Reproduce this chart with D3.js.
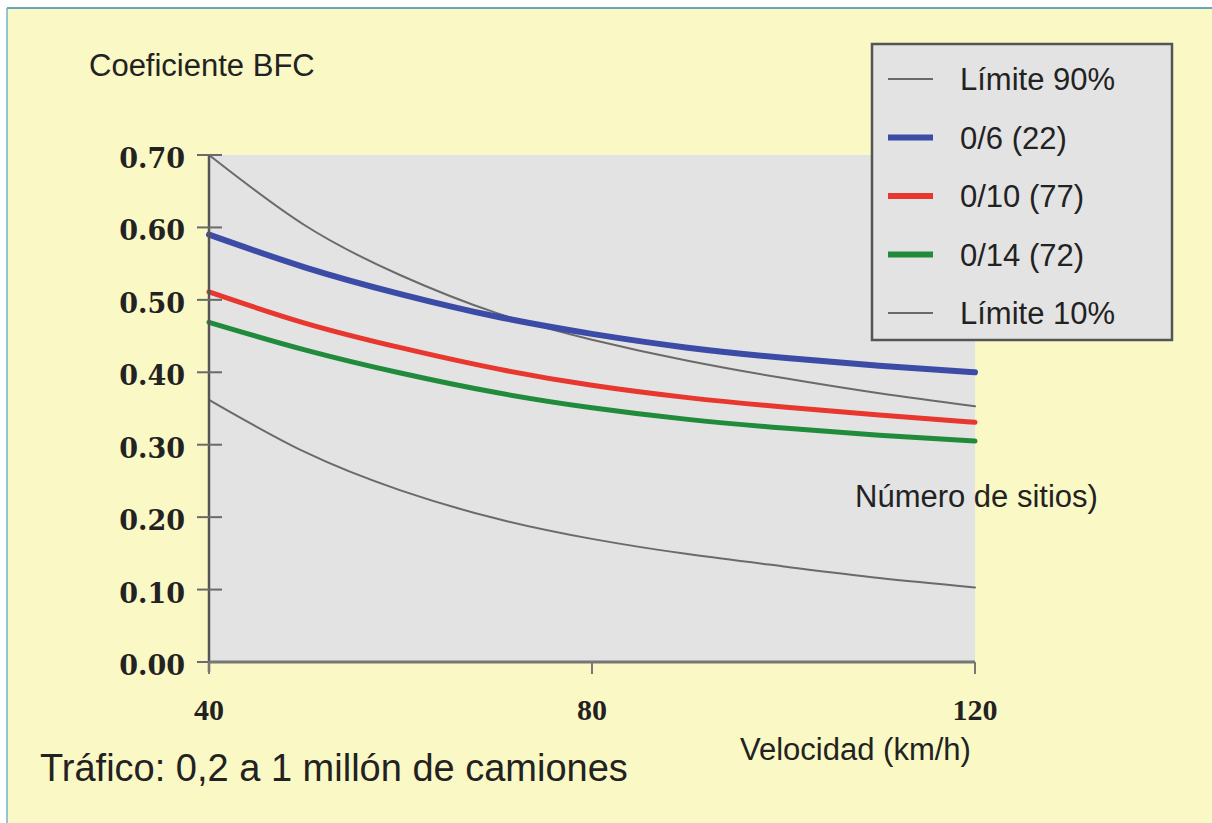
<!DOCTYPE html>
<html>
<head>
<meta charset="utf-8">
<script src="https://cdn.jsdelivr.net/npm/d3@7"></script>
<style>
  html, body { margin: 0; padding: 0; background: #ffffff; }
  svg { display: block; }
</style>
</head>
<body>
<svg id="chart" width="1212" height="823"></svg>
<script>
// ---- data ----
const speeds = [40, 50, 60, 70, 80, 90, 100, 110, 120];
const limite90 = [0.700, 0.603, 0.534, 0.482, 0.445, 0.416, 0.392, 0.371, 0.353];
const serie06  = [0.590, 0.545, 0.508, 0.477, 0.453, 0.434, 0.420, 0.409, 0.400];
const serie010 = [0.511, 0.468, 0.434, 0.405, 0.382, 0.365, 0.352, 0.341, 0.331];
const serie014 = [0.469, 0.431, 0.399, 0.372, 0.351, 0.335, 0.323, 0.313, 0.305];
const limite10 = [0.362, 0.290, 0.237, 0.198, 0.170, 0.149, 0.132, 0.116, 0.103];
const yTicks = [0, 0.1, 0.2, 0.3, 0.4, 0.5, 0.6, 0.7];
const xTicks = [40, 80, 120];
const legendLabels = ["Límite 90%", "0/6 (22)", "0/10 (77)", "0/14 (72)", "Límite 10%"];

const series = [
  { name: legendLabels[0], values: limite90, color: "#6a6a6a", width: 2 },
  { name: legendLabels[1], values: serie06,  color: "#3c4ba6", width: 6 },
  { name: legendLabels[2], values: serie010, color: "#e8372f", width: 5 },
  { name: legendLabels[3], values: serie014, color: "#1f8b3b", width: 5 },
  { name: legendLabels[4], values: limite10, color: "#6a6a6a", width: 2 }
];

const svg = d3.select("#chart");
const W = 1212, H = 823;

// background frame
svg.append("rect").attr("x", 0).attr("y", 0).attr("width", W).attr("height", H).attr("fill", "#ffffff");
svg.append("rect").attr("x", 7).attr("y", 8).attr("width", W - 7).attr("height", H - 8).attr("fill", "#faf8c4");
svg.append("line").attr("x1", 7).attr("x2", W).attr("y1", 8).attr("y2", 8).attr("stroke", "#2f8db3").attr("stroke-width", 1.5);
svg.append("line").attr("x1", 7).attr("x2", 7).attr("y1", 8).attr("y2", H).attr("stroke", "#6fb2d6").attr("stroke-width", 1.5);

const x = d3.scaleLinear().domain([40, 120]).range([209, 975]);
const y = d3.scaleLinear().domain([0, 0.7]).range([662, 155]);

// plot background
svg.append("rect")
  .attr("x", x(40)).attr("y", y(0.7))
  .attr("width", x(120) - x(40)).attr("height", y(0) - y(0.7))
  .attr("fill", "#e3e3e3");

// curves
const line = d3.line()
  .x((d, i) => x(speeds[i]))
  .y(d => y(d))
  .curve(d3.curveNatural);

svg.append("g").selectAll("path")
  .data(series)
  .join("path")
  .attr("d", d => line(d.values))
  .attr("fill", "none")
  .attr("stroke", d => d.color)
  .attr("stroke-width", d => d.width)
  .attr("stroke-linecap", "round");

// y axis
const yAxis = svg.append("g");
yAxis.append("line")
  .attr("x1", x(40)).attr("x2", x(40))
  .attr("y1", y(0.7)).attr("y2", y(0) + 10)
  .attr("stroke", "#555").attr("stroke-width", 2.5);
yAxis.selectAll("line.tick")
  .data(yTicks).join("line").attr("class", "tick")
  .attr("x1", x(40) - 12).attr("x2", x(40) + 13)
  .attr("y1", d => y(d)).attr("y2", d => y(d))
  .attr("stroke", "#6a6a6a").attr("stroke-width", 2);
yAxis.selectAll("text")
  .data(yTicks).join("text")
  .attr("x", 185).attr("y", d => y(d) + 13)
  .attr("text-anchor", "end")
  .attr("font-family", "'DejaVu Serif', serif")
  .attr("font-weight", "bold")
  .attr("font-size", 27)
  .attr("fill", "#222")
  .text(d => d3.format(".2f")(d));

// x axis
const xAxis = svg.append("g");
xAxis.append("line")
  .attr("x1", x(40)).attr("x2", x(120))
  .attr("y1", y(0)).attr("y2", y(0))
  .attr("stroke", "#777").attr("stroke-width", 3);
xAxis.selectAll("line.tick")
  .data(xTicks).join("line").attr("class", "tick")
  .attr("x1", d => x(d)).attr("x2", d => x(d))
  .attr("y1", y(0)).attr("y2", y(0) + 12)
  .attr("stroke", "#777").attr("stroke-width", 2);
xAxis.selectAll("text")
  .data(xTicks).join("text")
  .attr("x", d => x(d))
  .attr("y", 720)
  .attr("text-anchor", "middle")
  .attr("font-family", "'Liberation Serif', serif")
  .attr("font-weight", "bold")
  .attr("font-size", 30)
  .attr("fill", "#222")
  .text(d => d);

const sans = "'Liberation Sans', Arial, sans-serif";

// titles
svg.append("text").attr("x", 89).attr("y", 76)
  .attr("font-family", sans).attr("font-size", 31).attr("fill", "#222")
  .text("Coeficiente BFC");
svg.append("text").attr("x", 740).attr("y", 760)
  .attr("font-family", sans).attr("font-size", 31).attr("fill", "#222")
  .text("Velocidad (km/h)");
svg.append("text").attr("x", 40).attr("y", 781)
  .attr("font-family", sans).attr("font-size", 38).attr("fill", "#222")
  .text("Tráfico: 0,2 a 1 millón de camiones");
svg.append("text").attr("x", 855).attr("y", 507)
  .attr("font-family", sans).attr("font-size", 31).attr("fill", "#222")
  .text("Número de sitios)");

// legend
const lg = svg.append("g");
lg.append("rect")
  .attr("x", 872).attr("y", 44).attr("width", 300).attr("height", 296)
  .attr("fill", "#e3e3e3").attr("stroke", "#555").attr("stroke-width", 2.5);
const rowY = d3.scalePoint().domain(legendLabels).range([79, 313]);
const rows = lg.selectAll("g.row").data(series).join("g").attr("class", "row");
rows.append("line")
  .attr("x1", 888).attr("x2", 933)
  .attr("y1", d => rowY(d.name)).attr("y2", d => rowY(d.name))
  .attr("stroke", d => d.color)
  .attr("stroke-width", d => d.width === 2 ? 2 : 6);
rows.append("text")
  .attr("x", 960).attr("y", d => rowY(d.name) + 11)
  .attr("font-family", sans).attr("font-size", 31).attr("fill", "#222")
  .text(d => d.name);
</script>
</body>
</html>
